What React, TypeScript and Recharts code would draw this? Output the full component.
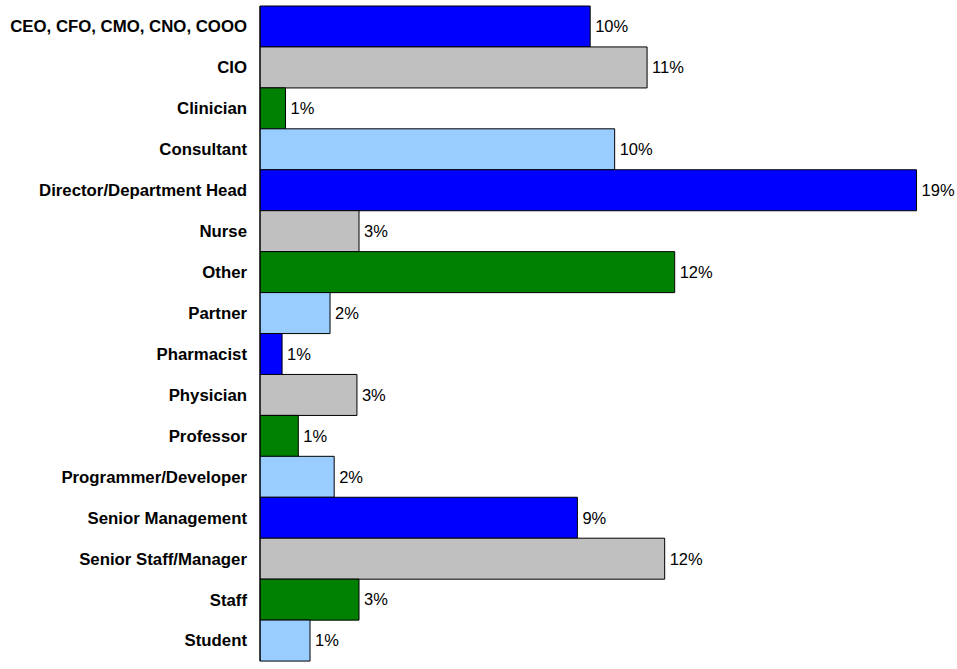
import React from 'react';
import { BarChart, Bar, Cell, XAxis, YAxis, LabelList } from 'recharts';

const roles = [
  'CEO, CFO, CMO, CNO, COOO',
  'CIO',
  'Clinician',
  'Consultant',
  'Director/Department Head',
  'Nurse',
  'Other',
  'Partner',
  'Pharmacist',
  'Physician',
  'Professor',
  'Programmer/Developer',
  'Senior Management',
  'Senior Staff/Manager',
  'Staff',
  'Student',
];

// share of respondents, percent
const shares = [9.57, 11.22, 0.74, 10.28, 19.03, 2.87, 12.02, 2.03, 0.64, 2.81, 1.11, 2.15, 9.2, 11.73, 2.87, 1.45];

const palette = ['#0000FF', '#C0C0C0', '#008000', '#99CCFF'];

const data = roles.map((role, i) => ({ role, share: shares[i] }));

const font = 'Liberation Sans, Arial, sans-serif';

export default function App() {
  return (
    <div style={{ position: 'absolute', left: 0, top: 0, background: '#fff' }}>
      <BarChart
        width={957}
        height={669}
        layout="vertical"
        data={data}
        margin={{ top: 6, right: 7, bottom: 8, left: 0 }}
        barCategoryGap={0}
      >
        <XAxis type="number" domain={[0, 20]} hide />
        <YAxis
          type="category"
          dataKey="role"
          width={260}
          interval={0}
          axisLine={{ stroke: '#000' }}
          tickLine={false}
          tickMargin={7}
          tick={{ fill: '#000', fontSize: 16.8, fontWeight: 'bold', fontFamily: font }}
        />
        <Bar dataKey="share" stroke="#000" strokeWidth={1} isAnimationActive={false}>
          {data.map((d, i) => (
            <Cell key={d.role} fill={palette[i % palette.length]} />
          ))}
          <LabelList
            dataKey="share"
            position="right"
            offset={5}
            formatter={(v: number) => `${Math.round(v)}%`}
            style={{ fill: '#000', fontSize: 16.5, fontFamily: font }}
          />
        </Bar>
      </BarChart>
    </div>
  );
}
